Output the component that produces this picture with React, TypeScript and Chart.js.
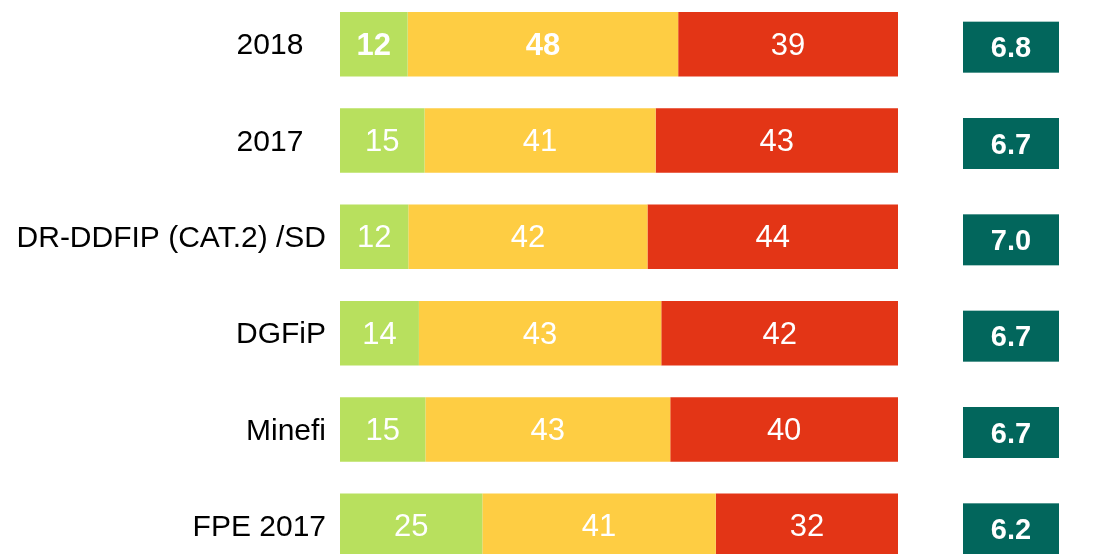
import React, { useEffect, useRef } from "react";
import { Chart, registerables } from "chart.js";

Chart.register(...registerables);

const categories = ["2018  \u2009", "2017  \u2009", "DR-DDFIP (CAT.2) /SD", "DGFiP", "Minefi", "FPE 2017"];
const lowValues = [12, 15, 12, 14, 15, 25];
const midValues = [48, 41, 42, 43, 43, 41];
const highValues = [39, 43, 44, 42, 40, 32];
const scores = ["6.8", "6.7", "7.0", "6.7", "6.7", "6.2"];
const boldLow = [true, false, false, false, false, false];
const boldMid = [true, false, false, false, false, false];
const boldHigh = [false, false, false, false, false, false];

const FONT = "'Liberation Sans', Arial, sans-serif";

export default function App() {
  const ref = useRef<HTMLCanvasElement | null>(null);

  useEffect(() => {
    if (!ref.current) return;
    const totals = categories.map((_, i) => lowValues[i] + midValues[i] + highValues[i]);
    const share = (arr: number[]) => arr.map((v, i) => (v / totals[i]) * 100);
    const raw = [lowValues, midValues, highValues];
    const bolds = [boldLow, boldMid, boldHigh];

    const labelPlugin = {
      id: "barLabels",
      afterDatasetsDraw(chart: any) {
        const ctx = chart.ctx;
        ctx.save();
        ctx.fillStyle = "#ffffff";
        ctx.textAlign = "center";
        ctx.textBaseline = "middle";
        chart.data.datasets.forEach((ds: any, di: number) => {
          const meta = chart.getDatasetMeta(di);
          meta.data.forEach((el: any, i: number) => {
            const cx = (el.x + el.base) / 2;
            ctx.font = `${bolds[di][i] ? "bold " : ""}31px ${FONT}`;
            ctx.fillText(String(raw[di][i]), cx, el.y + 2);
          });
        });
        const yScale = chart.scales.y;
        const area = chart.chartArea;
        scores.forEach((s, i) => {
          const cy = yScale.getPixelForValue(i) + 3;
          const bx = area.right + 65;
          const bw = 96;
          const bh = 51;
          ctx.fillStyle = "#02665C";
          ctx.fillRect(bx, cy - bh / 2, bw, bh);
          ctx.fillStyle = "#ffffff";
          ctx.font = `bold 29px ${FONT}`;
          ctx.fillText(s, bx + bw / 2, cy + 2);
        });
        ctx.restore();
      },
    };

    const chart = new Chart(ref.current, {
      type: "bar",
      data: {
        labels: categories,
        datasets: [
          { label: "low", data: share(lowValues), backgroundColor: "#B8E05E" },
          { label: "mid", data: share(midValues), backgroundColor: "#FECD43" },
          { label: "high", data: share(highValues), backgroundColor: "#E33516" },
        ],
      },
      options: {
        indexAxis: "y",
        responsive: true,
        maintainAspectRatio: false,
        animation: false,
        devicePixelRatio: 1,
        layout: { padding: { left: 0, right: 202, top: 0, bottom: 0 } },
        datasets: {
          bar: { categoryPercentage: 1, barPercentage: 0.67, borderWidth: 0 },
        },
        plugins: { legend: { display: false }, tooltip: { enabled: false } },
        scales: {
          x: { stacked: true, display: false, min: 0, max: 100 },
          y: {
            stacked: true,
            grid: { display: false, drawTicks: false },
            border: { display: false },
            ticks: {
              padding: 14,
              labelOffset: 2,
              color: "#000000",
              font: { family: FONT, size: 30 },
            },
            afterFit(scale: any) {
              scale.width = 340;
              scale.paddingTop = 0;
              scale.paddingBottom = 0;
            },
          },
        },
      },
      plugins: [labelPlugin],
    } as any);
    return () => chart.destroy();
  }, []);

  return (
    <div style={{ position: "absolute", left: 0, top: -4, width: 1100, height: 578 }}>
      <canvas ref={ref} style={{ display: "block" }} />
    </div>
  );
}
